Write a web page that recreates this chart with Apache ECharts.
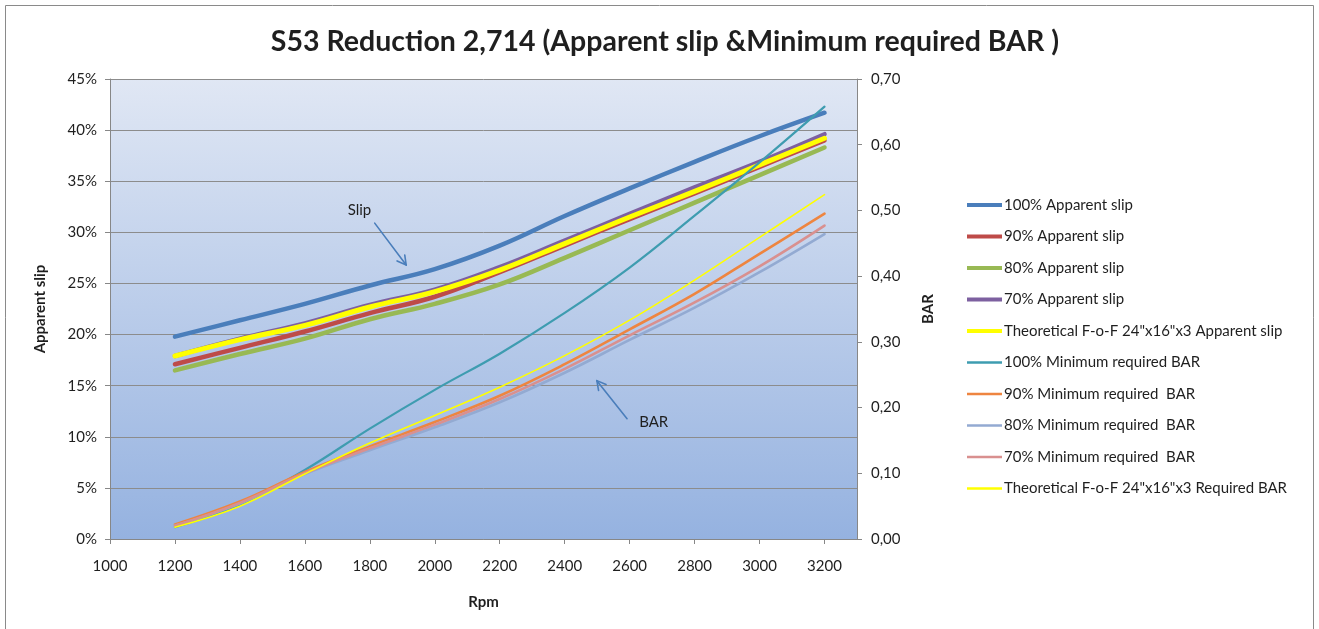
<!DOCTYPE html>
<html>
<head>
<meta charset="utf-8">
<script src="https://cdn.jsdelivr.net/npm/echarts@6/dist/echarts.min.js"></script>
<style>
  html, body { margin: 0; padding: 0; background: #ffffff; }
  #chart { width: 1319px; height: 629px; }
</style>
</head>
<body>
<div id="chart"></div>
<script>
// Engine speed (rpm) for every measured point
const rpm = [1200, 1400, 1600, 1800, 2000, 2200, 2400, 2600, 2800, 3000, 3200];

// Apparent slip, percent (left axis)
const slip100 = [19.8, 21.4, 23.0, 24.8, 26.4, 28.7, 31.6, 34.3, 36.9, 39.4, 41.7];
const slip90  = [17.1, 18.7, 20.3, 22.1, 23.7, 26.1, 28.7, 31.3, 33.8, 36.4, 39.0];
const slip80  = [16.5, 18.1, 19.6, 21.5, 23.0, 24.9, 27.5, 30.2, 32.9, 35.6, 38.3];
const slip70  = [17.9, 19.6, 21.1, 22.9, 24.4, 26.6, 29.2, 31.8, 34.4, 36.9, 39.6];
const slipTheo = [17.9, 19.5, 20.9, 22.7, 24.2, 26.3, 28.9, 31.5, 34.0, 36.6, 39.2];

// Minimum required pressure, bar (right axis)
const bar100 = [0.018, 0.052, 0.105, 0.168, 0.227, 0.282, 0.344, 0.413, 0.492, 0.573, 0.658];
const bar90  = [0.022, 0.057, 0.102, 0.141, 0.178, 0.218, 0.266, 0.319, 0.373, 0.434, 0.495];
const bar80  = [0.020, 0.054, 0.099, 0.135, 0.170, 0.208, 0.253, 0.303, 0.352, 0.406, 0.464];
const bar70  = [0.020, 0.055, 0.100, 0.138, 0.174, 0.213, 0.259, 0.310, 0.360, 0.415, 0.477];
const barTheo = [0.018, 0.050, 0.099, 0.146, 0.188, 0.231, 0.279, 0.333, 0.394, 0.459, 0.524];

// Axis ranges
const rpmRange = [1000, 3300, 200];
const slipRange = [0, 45, 5];
const barRange = [0, 0.7, 0.1];

// Series labels
const names = [
  '100% Apparent slip',
  '90% Apparent slip',
  '80% Apparent slip',
  '70% Apparent slip',
  'Theoretical F-o-F 24"x16"x3 Apparent slip',
  '100% Minimum required BAR',
  '90% Minimum required  BAR',
  '80% Minimum required  BAR',
  '70% Minimum required  BAR',
  'Theoretical F-o-F 24"x16"x3 Required BAR'
];

const titleText = 'S53 Reduction 2,714 (Apparent slip &Minimum required BAR )';

// Callout notes: label position and arrow (from -> tip), in axis units
const slipNote = { text: 'Slip', axis: 0, at: [1768, 32.2], from: [1815, 30.9], tip: [1912, 26.8] };
const barNote  = { text: 'BAR',  axis: 1, at: [2674, 0.178], from: [2592, 0.183], tip: [2499, 0.241] };

const FONT = 'Lato, "Open Sans", "DejaVu Sans", sans-serif';
const TXT = '#1f1f1f';
const AXIS_GREY = '#878787';

function pairs(values) {
  return rpm.map((r, i) => [r, values[i]]);
}

function lineSeries(idx, values, color, width, yAxisIndex) {
  return {
    name: names[idx],
    type: 'line',
    yAxisIndex: yAxisIndex,
    data: pairs(values),
    smooth: 0.4,
    symbol: 'none',
    color: color,
    lineStyle: { color: color, width: width, cap: 'round', join: 'round' },
    emphasis: { disabled: true },
    z: 2 + idx
  };
}

const series = [
  lineSeries(0, slip100, '#4A7EBB', 4.5, 0),
  lineSeries(1, slip90, '#BE4B48', 4.5, 0),
  lineSeries(2, slip80, '#98B954', 4.5, 0),
  lineSeries(3, slip70, '#7D60A0', 4.5, 0),
  lineSeries(4, slipTheo, '#FFFF00', 5, 0),
  lineSeries(5, bar100, '#3E9CB0', 2.2, 1),
  lineSeries(6, bar90, '#EE8540', 2.6, 1),
  lineSeries(7, bar80, '#93AAD2', 2.6, 1),
  lineSeries(8, bar70, '#D9908F', 2.6, 1),
  lineSeries(9, barTheo, '#FFFF00', 1.6, 1)
];

// Legend swatches: thick bars for slip, thinner bars for pressure
const thickIcon = 'path://M0,0 H35 V4 H0 Z';
const thinIcon = 'path://M0,0 H35 V2.4 H0 Z';
const legendData = names.map((n, i) => ({ name: n, icon: i < 5 ? thickIcon : thinIcon }));

const chart = echarts.init(document.getElementById('chart'), null, { renderer: 'canvas' });

const option = {
  backgroundColor: '#ffffff',
  animation: false,
  textStyle: { fontFamily: FONT },
  title: {
    text: titleText,
    left: 660,
    textAlign: 'center',
    top: 22,
    textStyle: { fontFamily: FONT, fontSize: 28.5, fontWeight: 'bold', color: TXT }
  },
  legend: {
    orient: 'vertical',
    left: 967,
    top: 197,
    padding: 0,
    itemWidth: 35,
    itemHeight: 14,
    itemGap: 15.5,
    selectedMode: false,
    data: legendData,
    textStyle: { fontFamily: FONT, fontSize: 15, color: TXT, lineHeight: 16, padding: [0, 0, 0, -3] }
  },
  grid: {
    left: 110,
    top: 79,
    width: 747,
    height: 460,
    show: true,
    borderWidth: 0,
    backgroundColor: {
      type: 'linear', x: 0, y: 0, x2: 0, y2: 1,
      colorStops: [
        { offset: 0, color: '#E0E7F4' },
        { offset: 1, color: '#95B2E0' }
      ]
    }
  },
  xAxis: {
    type: 'value',
    min: rpmRange[0],
    max: rpmRange[1],
    interval: rpmRange[2],
    name: 'Rpm',
    nameLocation: 'middle',
    nameGap: 56,
    nameTextStyle: { fontFamily: FONT, fontSize: 15, fontWeight: 'bold', color: TXT },
    axisLine: { show: true, lineStyle: { color: AXIS_GREY, width: 1 } },
    axisTick: { show: true, length: 5, lineStyle: { color: AXIS_GREY } },
    axisLabel: {
      showMaxLabel: false, margin: 20, fontFamily: FONT, fontSize: 15, color: TXT,
      formatter: v => String(v)
    },
    splitLine: { show: false }
  },
  yAxis: [
    {
      type: 'value',
      position: 'left',
      min: slipRange[0],
      max: slipRange[1],
      interval: slipRange[2],
      name: 'Apparent slip',
      nameLocation: 'middle',
      nameRotate: 90,
      nameGap: 62,
      nameTextStyle: { fontFamily: FONT, fontSize: 15, fontWeight: 'bold', color: TXT },
      axisLine: { show: true, lineStyle: { color: AXIS_GREY, width: 1 } },
      axisTick: { show: true, length: 5, lineStyle: { color: AXIS_GREY } },
      axisLabel: { margin: 13, fontFamily: FONT, fontSize: 15, color: TXT, formatter: v => v + '%' },
      splitLine: { show: true, lineStyle: { color: '#8C8C8C', width: 1 } }
    },
    {
      type: 'value',
      position: 'right',
      min: barRange[0],
      max: barRange[1],
      interval: barRange[2],
      name: 'BAR',
      nameLocation: 'middle',
      nameRotate: 90,
      nameGap: 64,
      nameTextStyle: { fontFamily: FONT, fontSize: 15, fontWeight: 'bold', color: TXT },
      axisLine: { show: true, lineStyle: { color: AXIS_GREY, width: 1 } },
      axisTick: { show: true, length: 5, lineStyle: { color: AXIS_GREY } },
      axisLabel: {
        margin: 14, fontFamily: FONT, fontSize: 15, color: TXT,
        formatter: v => v.toFixed(2).replace('.', ',')
      },
      splitLine: { show: false }
    }
  ],
  series: series
};

chart.setOption(option);

// Callouts and the outer frame, positioned through the axes
function toPx(axis, pt) {
  return chart.convertToPixel({ xAxisIndex: 0, yAxisIndex: axis }, pt);
}

function noteGraphics(note) {
  const at = toPx(note.axis, note.at);
  const a = toPx(note.axis, note.from);
  const b = toPx(note.axis, note.tip);
  const ang = Math.atan2(b[1] - a[1], b[0] - a[0]);
  const len = 10, spread = 0.5;
  const h1 = [b[0] - len * Math.cos(ang - spread), b[1] - len * Math.sin(ang - spread)];
  const h2 = [b[0] - len * Math.cos(ang + spread), b[1] - len * Math.sin(ang + spread)];
  const stroke = { stroke: '#4A7EBB', lineWidth: 1.6, fill: null, lineCap: 'round', lineJoin: 'round' };
  return [
    { type: 'text', x: at[0], y: at[1], z: 50,
      style: { text: note.text, font: '15px ' + FONT, fill: TXT, align: 'center', verticalAlign: 'middle' } },
    { type: 'line', z: 50, shape: { x1: a[0], y1: a[1], x2: b[0], y2: b[1] }, style: stroke },
    { type: 'polyline', z: 50, shape: { points: [h1, b, h2] }, style: stroke }
  ];
}

chart.setOption({
  graphic: [
    { type: 'rect', z: 0, silent: true,
      shape: { x: 5.5, y: 5.5, width: 1308, height: 640 },
      style: { fill: null, stroke: '#8A8A8A', lineWidth: 1 } }
  ].concat(noteGraphics(slipNote), noteGraphics(barNote))
});
</script>
</body>
</html>
